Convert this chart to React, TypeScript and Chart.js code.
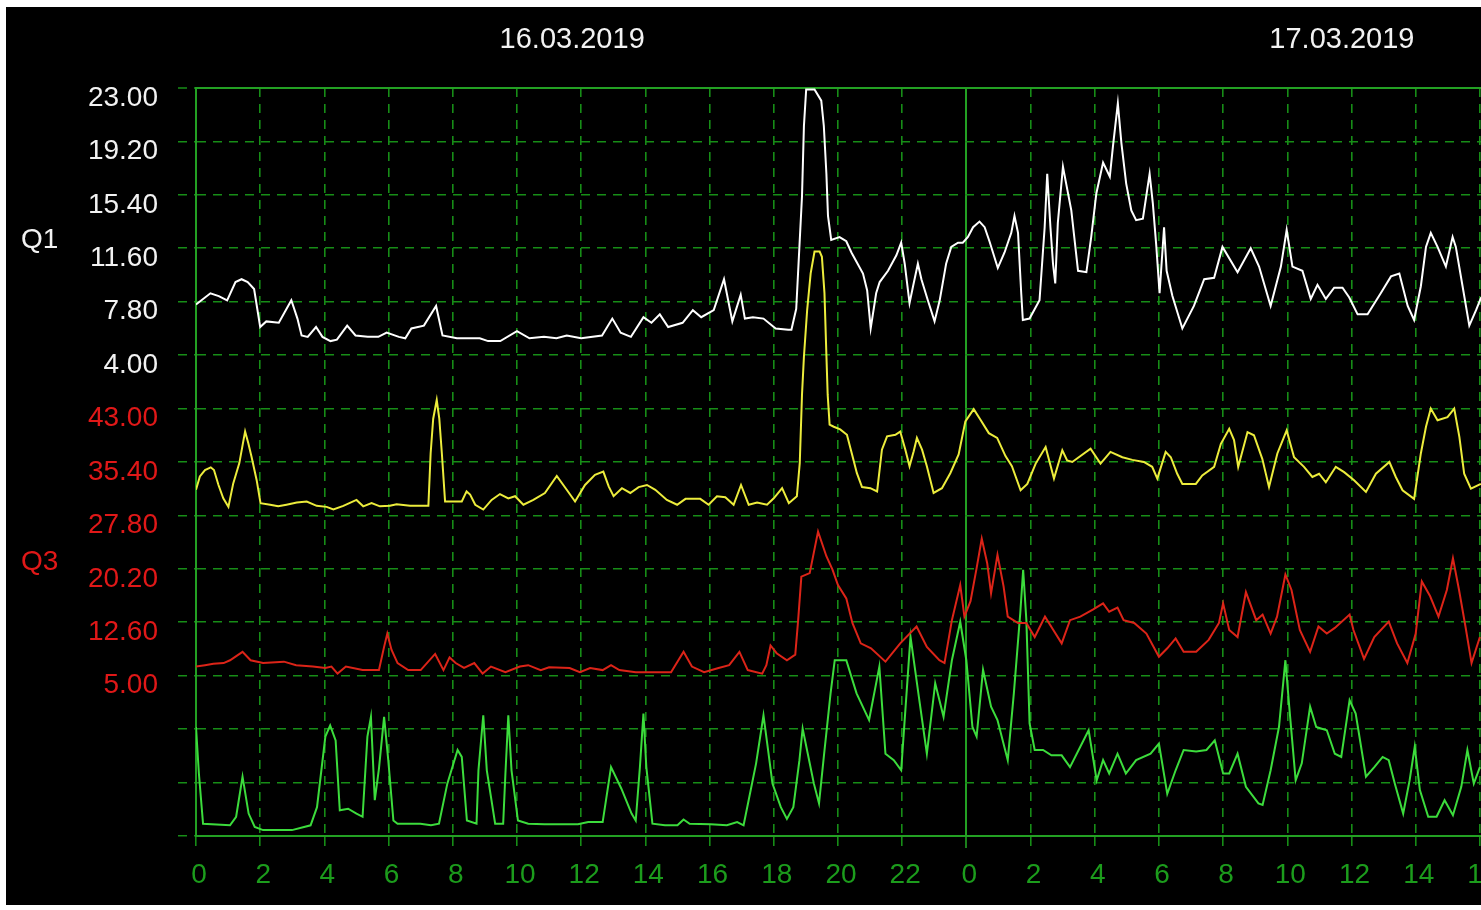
import React, { useEffect, useRef } from 'react';
import { Chart, registerables } from 'chart.js';

Chart.register(...registerables);

// ---- axis / label data ----
const xTickHours = [0, 2, 4, 6, 8, 10, 12, 14, 16, 18, 20, 22, 24, 26, 28, 30, 32, 34, 36, 38, 40];
const xTickLabels = ['0', '2', '4', '6', '8', '10', '12', '14', '16', '18', '20', '22', '0', '2', '4', '6', '8', '10', '12', '14', '16'];
const q1TickLabels = ['23.00', '19.20', '15.40', '11.60', '7.80', '4.00'];
const q3TickLabels = ['43.00', '35.40', '27.80', '20.20', '12.60', '5.00'];
const dateLabels = ['16.03.2019', '17.03.2019'];
const dateLabelHours = [11.72, 35.7];
const axisTitles = ['Q1', 'Q3'];

// ---- Q1 (white) ----
const q1Hours = [
  0, 0.45, 0.71, 0.97, 1.23, 1.42, 1.61, 1.81, 2.0, 2.19,
  2.58, 2.97, 3.16, 3.29, 3.48, 3.74, 3.94, 4.19, 4.39, 4.71,
  4.97, 5.35, 5.68, 5.94, 6.32, 6.52, 6.71, 7.1, 7.48, 7.68,
  8.13, 8.84, 9.1, 9.48, 10.0, 10.39, 10.84, 11.23, 11.55, 12.0,
  12.65, 12.97, 13.23, 13.55, 13.94, 14.19, 14.45, 14.71, 15.16, 15.48,
  15.74, 16.13, 16.45, 16.71, 16.97, 17.1, 17.35, 17.68, 18.06, 18.45,
  18.55, 18.7, 18.88, 18.94, 19.01, 19.27, 19.48, 19.56, 19.64, 19.69,
  19.79, 20.05, 20.26, 20.42, 20.78, 20.91, 21.02, 21.19, 21.3, 21.56,
  21.82, 21.97, 22.08, 22.23, 22.34, 22.49, 22.6, 22.8, 23.01, 23.17,
  23.37, 23.53, 23.74, 23.89, 24.05, 24.21, 24.41, 24.57, 24.72, 24.98,
  25.19, 25.4, 25.5, 25.61, 25.71, 25.76, 25.97, 26.28, 26.44, 26.52,
  26.62, 26.7, 26.77, 26.85, 27.01, 27.11, 27.27, 27.48, 27.74, 27.89,
  28.05, 28.26, 28.47, 28.57, 28.72, 28.83, 28.98, 29.14, 29.29, 29.5,
  29.71, 29.81, 29.92, 30.02, 30.16, 30.24, 30.42, 30.73, 31.09, 31.41,
  31.72, 31.98, 32.45, 32.86, 33.12, 33.48, 33.8, 33.98, 34.16, 34.47,
  34.73, 34.94, 35.2, 35.46, 35.72, 35.93, 36.19, 36.5, 36.91, 37.23,
  37.49, 37.75, 37.95, 38.16, 38.32, 38.47, 38.68, 38.94, 39.15, 39.25,
  39.46, 39.67, 39.88, 40.04,
];
const q1Values = [
  7.6, 8.4, 8.2, 7.9, 9.2, 9.4, 9.2, 8.7, 6.0, 6.4,
  6.3, 7.9, 6.6, 5.4, 5.3, 6.0, 5.3, 5.0, 5.1, 6.1,
  5.4, 5.3, 5.3, 5.6, 5.3, 5.2, 5.9, 6.1, 7.5, 5.4,
  5.2, 5.2, 5.0, 5.0, 5.7, 5.2, 5.3, 5.2, 5.4, 5.2,
  5.4, 6.6, 5.6, 5.3, 6.7, 6.3, 6.9, 6.0, 6.3, 7.2,
  6.7, 7.2, 9.4, 6.4, 8.3, 6.6, 6.7, 6.6, 5.9, 5.8,
  5.8, 7.3, 15.3, 20.3, 22.9, 22.9, 22.1, 20.3, 16.9, 13.9,
  12.2, 12.4, 12.1, 11.3, 9.8, 8.6, 5.9, 8.4, 9.2, 10.0,
  11.1, 12.0, 10.5, 7.7, 8.9, 10.5, 9.4, 7.9, 6.4, 7.9,
  10.5, 11.7, 12.0, 12.0, 12.4, 13.1, 13.5, 13.1, 12.1, 10.2,
  11.3, 12.7, 13.9, 12.7, 8.4, 6.5, 6.6, 7.9, 13.1, 16.9,
  13.1, 10.5, 9.1, 13.4, 17.4, 16.2, 14.3, 10.0, 9.9, 12.4,
  15.5, 17.7, 16.7, 18.9, 21.9, 19.1, 16.2, 14.3, 13.6, 13.7,
  16.9, 14.8, 11.7, 8.4, 13.1, 10.0, 8.2, 5.9, 7.5, 9.4,
  9.5, 11.7, 9.9, 11.6, 10.3, 7.5, 10.3, 12.9, 10.3, 10.0,
  8.0, 9.0, 8.0, 8.8, 8.8, 8.1, 6.9, 6.9, 8.4, 9.6,
  9.8, 7.5, 6.5, 8.9, 11.7, 12.7, 11.7, 10.3, 12.4, 11.7,
  8.9, 6.1, 7.2, 8.1,
];

// ---- Q2 (yellow), plotted in grid units ----
const q2Hours = [
  0, 0.12, 0.28, 0.46, 0.56, 0.7, 0.85, 1.01, 1.16, 1.35,
  1.48, 1.53, 1.63, 1.73, 1.89, 2.01, 2.31, 2.56, 2.82, 3.14,
  3.45, 3.76, 4.07, 4.28, 4.59, 5.0, 5.21, 5.47, 5.73, 6.04,
  6.25, 6.67, 7.24, 7.31, 7.39, 7.5, 7.58, 7.66, 7.76, 8.02,
  8.28, 8.43, 8.54, 8.7, 8.95, 9.21, 9.47, 9.73, 9.94, 10.2,
  10.51, 10.87, 11.24, 11.55, 11.81, 12.12, 12.43, 12.69, 12.86, 13.01,
  13.27, 13.53, 13.79, 14.05, 14.31, 14.67, 14.99, 15.25, 15.71, 15.97,
  16.23, 16.49, 16.75, 16.98, 17.22, 17.48, 17.79, 18.0, 18.26, 18.47,
  18.72, 18.81, 18.88, 18.94, 19.04, 19.15, 19.27, 19.43, 19.5, 19.58,
  19.64, 19.68, 19.74, 19.87, 20.07, 20.28, 20.44, 20.59, 20.75, 21.01,
  21.22, 21.37, 21.53, 21.79, 21.94, 22.1, 22.23, 22.36, 22.46, 22.62,
  22.77, 22.98, 23.24, 23.5, 23.76, 23.97, 24.23, 24.44, 24.7, 24.96,
  25.22, 25.42, 25.69, 25.9, 26.16, 26.47, 26.73, 26.99, 27.14, 27.3,
  27.87, 28.18, 28.49, 28.86, 29.17, 29.53, 29.79, 29.95, 30.21, 30.37,
  30.57, 30.73, 31.15, 31.35, 31.72, 31.93, 32.19, 32.34, 32.47, 32.76,
  32.96, 33.22, 33.43, 33.69, 33.98, 34.21, 34.52, 34.78, 34.99, 35.2,
  35.51, 35.77, 36.08, 36.45, 36.76, 37.18, 37.38, 37.59, 37.95, 38.16,
  38.32, 38.47, 38.68, 38.99, 39.2, 39.36, 39.51, 39.72, 40.03,
];
const q2Values = [
  6.48, 6.73, 6.85, 6.9, 6.85, 6.57, 6.32, 6.16, 6.6, 6.98,
  7.41, 7.57, 7.35, 7.1, 6.66, 6.23, 6.2, 6.17, 6.2, 6.24,
  6.26, 6.18, 6.16, 6.11, 6.18, 6.29, 6.17, 6.23, 6.17, 6.18,
  6.21, 6.18, 6.18, 7.16, 7.81, 8.16, 7.81, 7.16, 6.26, 6.26,
  6.26, 6.45, 6.39, 6.2, 6.11, 6.29, 6.4, 6.32, 6.36, 6.2,
  6.29, 6.42, 6.74, 6.48, 6.26, 6.57, 6.76, 6.82, 6.54, 6.36,
  6.51, 6.42, 6.53, 6.57, 6.48, 6.29, 6.2, 6.31, 6.31, 6.2,
  6.36, 6.34, 6.2, 6.57, 6.2, 6.24, 6.2, 6.32, 6.51, 6.23,
  6.36, 6.98, 8.26, 8.97, 9.84, 10.53, 10.94, 10.94, 10.84, 10.16,
  9.0, 8.26, 7.7, 7.66, 7.61, 7.51, 7.14, 6.79, 6.53, 6.51,
  6.45, 7.23, 7.48, 7.51, 7.57, 7.23, 6.92, 7.2, 7.45, 7.23,
  6.92, 6.42, 6.51, 6.79, 7.14, 7.76, 7.99, 7.79, 7.54, 7.45,
  7.11, 6.92, 6.47, 6.59, 6.97, 7.28, 6.69, 7.22, 7.03, 7.0,
  7.25, 6.97, 7.19, 7.09, 7.04, 7.0, 6.91, 6.69, 7.19, 7.09,
  6.78, 6.59, 6.59, 6.75, 6.91, 7.34, 7.62, 7.41, 6.91, 7.56,
  7.5, 7.06, 6.53, 7.16, 7.59, 7.09, 6.91, 6.72, 6.78, 6.62,
  6.91, 6.81, 6.66, 6.44, 6.78, 7.0, 6.72, 6.47, 6.31, 7.16,
  7.66, 8.0, 7.78, 7.84, 8.0, 7.47, 6.78, 6.5, 6.59,
];

// ---- Q3 (red) ----
const q3Hours = [
  0, 0.28, 0.54, 0.86, 1.06, 1.45, 1.7, 2.09, 2.74, 3.12,
  3.64, 4.03, 4.22, 4.41, 4.67, 5.19, 5.7, 5.86, 5.96, 6.09,
  6.28, 6.61, 7.0, 7.45, 7.71, 7.9, 8.09, 8.35, 8.67, 8.93,
  9.19, 9.64, 10.09, 10.35, 10.74, 11.0, 11.64, 11.96, 12.28, 12.67,
  12.93, 13.19, 13.7, 14.22, 14.8, 15.19, 15.45, 15.83, 16.28, 16.61,
  16.93, 17.19, 17.64, 17.77, 17.9, 18.09, 18.41, 18.67, 18.76, 18.86,
  19.12, 19.38, 19.64, 19.83, 20.0, 20.26, 20.45, 20.71, 21.03, 21.48,
  21.94, 22.45, 22.77, 23.16, 23.32, 23.55, 23.81, 23.94, 24.13, 24.32,
  24.48, 24.65, 24.77, 24.97, 25.16, 25.29, 25.61, 25.87, 26.13, 26.45,
  26.71, 26.97, 27.23, 27.55, 27.94, 28.26, 28.45, 28.71, 28.9, 29.23,
  29.61, 30.0, 30.26, 30.52, 30.77, 31.16, 31.55, 31.87, 32.0, 32.19,
  32.45, 32.71, 33.03, 33.23, 33.48, 33.68, 33.94, 34.13, 34.39, 34.71,
  34.97, 35.23, 35.48, 35.94, 36.06, 36.39, 36.71, 37.16, 37.42, 37.74,
  38.0, 38.19, 38.45, 38.71, 38.97, 39.16, 39.35, 39.55, 39.74, 40.0,
];
const q3Values = [
  6.3, 6.5, 6.7, 6.8, 7.2, 8.4, 7.2, 6.8, 7.0, 6.5,
  6.3, 6.1, 6.3, 5.3, 6.3, 5.8, 5.8, 9.1, 11.0, 8.7,
  6.8, 5.8, 5.8, 8.1, 5.8, 7.6, 6.8, 6.1, 6.8, 5.3,
  6.3, 5.5, 6.3, 6.5, 5.8, 6.2, 6.1, 5.5, 6.1, 5.8,
  6.5, 5.8, 5.5, 5.5, 5.5, 8.4, 6.3, 5.5, 6.1, 6.5,
  8.4, 5.8, 5.3, 6.5, 9.3, 8.2, 7.2, 8.0, 12.9, 19.1,
  19.6, 25.5, 22.0, 20.1, 17.9, 16.0, 12.5, 9.6, 8.9, 7.0,
  9.6, 12.0, 9.1, 7.2, 6.8, 12.9, 17.9, 13.4, 15.6, 20.3,
  24.5, 21.0, 16.7, 22.2, 17.7, 13.4, 12.5, 12.5, 10.5, 13.4,
  11.5, 9.6, 12.9, 13.4, 14.4, 15.3, 14.1, 14.7, 12.9, 12.5,
  11.0, 7.7, 8.9, 10.3, 8.4, 8.4, 10.1, 12.5, 15.3, 11.5,
  10.5, 16.9, 12.9, 13.7, 11.0, 13.4, 19.4, 17.2, 11.5, 8.4,
  12.0, 11.0, 11.8, 13.7, 11.5, 7.4, 10.5, 12.7, 9.6, 6.8,
  11.0, 18.4, 16.3, 13.4, 17.2, 21.7, 17.2, 12.0, 6.8, 10.5,
];

// ---- Q4 (green), plotted in grid units ----
const q4Hours = [
  0, 0.09, 0.22, 1.06, 1.25, 1.45, 1.64, 1.83, 2.09, 2.99,
  3.57, 3.77, 4.03, 4.18, 4.35, 4.48, 4.74, 5.0, 5.19, 5.34,
  5.45, 5.57, 5.7, 5.86, 5.99, 6.15, 6.28, 6.99, 7.32, 7.57,
  7.83, 8.15, 8.28, 8.44, 8.74, 8.8, 8.95, 9.06, 9.32, 9.57,
  9.64, 9.73, 9.83, 10.03, 10.35, 10.86, 11.9, 12.22, 12.67, 12.93,
  13.25, 13.57, 13.7, 13.83, 13.94, 14.03, 14.22, 14.61, 15.0, 15.19,
  15.38, 16.03, 16.54, 16.86, 17.06, 17.45, 17.68, 17.81, 17.96, 18.22,
  18.41, 18.61, 18.8, 18.9, 19.06, 19.25, 19.41, 19.57, 19.77, 19.9,
  20.06, 20.26, 20.58, 20.97, 21.29, 21.48, 21.74, 21.97, 22.26, 22.52,
  22.77, 23.03, 23.29, 23.55, 23.81, 24.0, 24.19, 24.32, 24.52, 24.77,
  24.97, 25.29, 25.48, 25.68, 25.77, 25.87, 25.97, 26.13, 26.39, 26.65,
  26.97, 27.23, 27.55, 27.81, 28.06, 28.26, 28.45, 28.71, 28.97, 29.29,
  29.74, 30.0, 30.26, 30.52, 30.77, 31.16, 31.48, 31.74, 32.0, 32.19,
  32.45, 32.71, 33.1, 33.23, 33.48, 33.74, 33.94, 34.06, 34.26, 34.45,
  34.71, 34.9, 35.23, 35.48, 35.68, 35.94, 36.13, 36.45, 36.71, 36.97,
  37.16, 37.35, 37.61, 37.81, 37.97, 38.13, 38.39, 38.65, 38.9, 39.16,
  39.42, 39.61, 39.81, 40.0,
];
const q4Values = [
  2.04, 1.17, 0.23, 0.2, 0.36, 1.11, 0.42, 0.17, 0.11, 0.11,
  0.2, 0.54, 1.86, 2.07, 1.79, 0.48, 0.51, 0.42, 0.36, 1.86,
  2.23, 0.67, 1.26, 2.23, 1.42, 0.29, 0.23, 0.23, 0.2, 0.23,
  0.98, 1.61, 1.48, 0.29, 0.23, 1.23, 2.26, 1.23, 0.23, 0.23,
  1.17, 2.26, 1.23, 0.29, 0.23, 0.22, 0.22, 0.26, 0.26, 1.29,
  0.89, 0.42, 0.29, 1.29, 2.29, 1.29, 0.23, 0.2, 0.2, 0.31,
  0.23, 0.22, 0.2, 0.26, 0.2, 1.36, 2.26, 1.67, 0.98, 0.54,
  0.32, 0.54, 1.42, 2.01, 1.54, 0.98, 0.61, 1.54, 2.67, 3.29,
  3.29, 3.29, 2.67, 2.17, 3.17, 1.54, 1.42, 1.23, 3.73, 2.61,
  1.54, 2.86, 2.23, 3.29, 4.01, 3.29, 2.04, 1.86, 3.11, 2.42,
  2.17, 1.42, 2.67, 4.17, 4.98, 4.04, 2.11, 1.61, 1.61, 1.51,
  1.51, 1.29, 1.67, 1.98, 1.04, 1.42, 1.17, 1.54, 1.17, 1.42,
  1.54, 1.73, 0.79, 1.23, 1.61, 1.58, 1.61, 1.79, 1.17, 1.17,
  1.54, 0.92, 0.61, 0.58, 1.23, 2.04, 3.29, 2.42, 1.04, 1.36,
  2.42, 2.04, 1.98, 1.54, 1.48, 2.54, 2.29, 1.11, 1.29, 1.48,
  1.42, 0.98, 0.42, 1.04, 1.67, 0.86, 0.36, 0.36, 0.67, 0.39,
  0.92, 1.61, 0.98, 1.29,
];

// ---- styling ----
const FONT = 'Liberation Sans';
const GRID_DASHED = '#178d17';
const GRID_SOLID = '#23a023';
const X_LABEL = '#1c9c1c';
const LABEL_WHITE = '#f2f2f2';
const LABEL_RED = '#e01818';
const DASH = [9, 7];

const pts = (hs: number[], vs: number[]) => hs.map((h, i) => ({ x: h, y: vs[i] }));

const yLabel = (v: number) => {
  const k = Math.round(14 - v);
  if (k >= 0 && k <= 5) return q1TickLabels[k];
  if (k >= 6 && k <= 11) return q3TickLabels[k - 6];
  return '';
};

const overlayPlugin = {
  id: 'overlayText',
  afterDraw(chart: any) {
    const { ctx, scales } = chart;
    ctx.save();
    ctx.textBaseline = 'middle';
    ctx.font = `29px "${FONT}"`;
    ctx.fillStyle = LABEL_WHITE;
    ctx.textAlign = 'center';
    dateLabels.forEach((t, i) => {
      ctx.fillText(t, scales.x.getPixelForValue(dateLabelHours[i]), 33);
    });
    ctx.font = `28px "${FONT}"`;
    ctx.textAlign = 'left';
    ctx.fillStyle = LABEL_WHITE;
    ctx.fillText(axisTitles[0], 15, scales.y.getPixelForValue(11.15));
    ctx.fillStyle = LABEL_RED;
    ctx.fillText(axisTitles[1], 15, scales.y.getPixelForValue(5.13));
    ctx.restore();
  },
};

export default function App() {
  const ref = useRef<HTMLCanvasElement>(null);
  useEffect(() => {
    const chart = new Chart(ref.current as HTMLCanvasElement, {
      type: 'line',
      data: {
        datasets: [
          { data: pts(q1Hours, q1Values), yAxisID: 'yQ1', borderColor: '#ffffff', borderWidth: 2 },
          { data: pts(q2Hours, q2Values), yAxisID: 'y', borderColor: '#ecec3c', borderWidth: 2 },
          { data: pts(q3Hours, q3Values), yAxisID: 'yQ3', borderColor: '#dc2418', borderWidth: 2 },
          { data: pts(q4Hours, q4Values), yAxisID: 'y', borderColor: '#3cdc3c', borderWidth: 2 },
        ] as any,
      },
      options: {
        animation: false,
        responsive: false,
        events: [],
        elements: { point: { radius: 0 }, line: { tension: 0, fill: false } },
        layout: { padding: { top: 81, left: 0, right: 0, bottom: 0 } },
        plugins: { legend: { display: false }, tooltip: { enabled: false } },
        scales: {
          x: {
            type: 'linear',
            min: 0,
            max: 41,
            afterBuildTicks: (s: any) => {
              s.ticks = xTickHours.map((v) => ({ value: v }));
            },
            afterFit: (s: any) => {
              s.height = 69;
            },
            ticks: {
              autoSkip: false,
              maxRotation: 0,
              padding: 10,
              labelOffset: 3,
              color: X_LABEL,
              font: { family: FONT, size: 28 },
              callback: (v: any) => xTickLabels[xTickHours.indexOf(Number(v))],
            },
            grid: {
              color: (c: any) => (c.tick && c.tick.value === 24 ? GRID_SOLID : GRID_DASHED),
              lineWidth: (c: any) => (c.tick && c.tick.value === 24 ? 2 : 1.6),
              tickLength: 12,
              tickColor: (c: any) => (c.tick && c.tick.value === 24 ? GRID_SOLID : GRID_DASHED),
              tickWidth: 1.6,
              tickBorderDash: (c: any) => (c.tick && c.tick.value === 24 ? [] : DASH),
            },
            border: {
              display: true,
              color: GRID_SOLID,
              width: 2,
              dash: (c: any) => (c.tick && c.tick.value === 24 ? [] : DASH),
            },
          },
          y: {
            type: 'linear',
            position: 'left',
            min: 0,
            max: 14,
            afterFit: (s: any) => {
              s.width = 190;
            },
            ticks: {
              stepSize: 1,
              autoSkip: false,
              padding: 20,
              labelOffset: 10,
              font: { family: FONT, size: 28 },
              color: (c: any) => (c.tick && 14 - c.tick.value <= 5.5 ? LABEL_WHITE : LABEL_RED),
              callback: (v: any) => yLabel(Number(v)),
            },
            grid: {
              color: (c: any) => (c.tick && c.tick.value === 14 ? GRID_SOLID : GRID_DASHED),
              lineWidth: (c: any) => (c.tick && c.tick.value === 14 ? 2 : 1.6),
              tickLength: 18,
              tickColor: GRID_DASHED,
              tickWidth: 1.6,
              tickBorderDash: DASH,
            },
            border: {
              display: true,
              color: GRID_SOLID,
              width: 2,
              dash: (c: any) => (c.tick && c.tick.value === 14 ? [] : DASH),
            },
          },
          yQ1: { type: 'linear', display: false, min: -30.2, max: 23 },
          yQ3: { type: 'linear', display: false, min: -17.8, max: 88.6 },
        },
      } as any,
      plugins: [overlayPlugin],
    });
    return () => chart.destroy();
  }, []);

  return (
    <div
      style={{
        position: 'fixed',
        left: 0,
        top: 0,
        width: 1481,
        height: 910,
        background: '#ffffff',
        overflow: 'hidden',
      }}
    >
      <canvas
        ref={ref}
        width={1506}
        height={898}
        style={{ position: 'absolute', left: 6, top: 7, width: 1506, height: 898, background: '#000000' }}
      />
    </div>
  );
}
